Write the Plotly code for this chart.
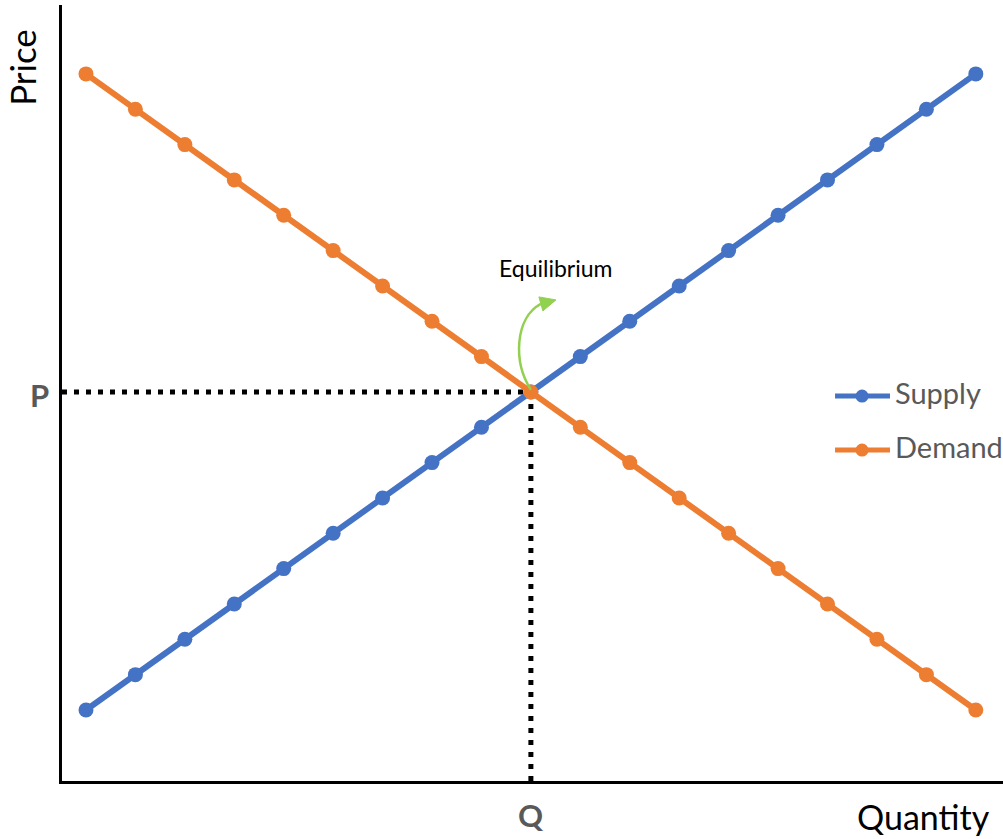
import plotly.graph_objects as go

# Supply and demand schedules over 19 quantity steps
quantity = list(range(1, 20))
supply = [1, 2, 3, 4, 5, 6, 7, 8, 9, 10, 11, 12, 13, 14, 15, 16, 17, 18, 19]
demand = [19, 18, 17, 16, 15, 14, 13, 12, 11, 10, 9, 8, 7, 6, 5, 4, 3, 2, 1]

# Equilibrium where the two schedules cross
eq_q = 10
eq_p = 10

series_names = ["Supply", "Demand"]

BLUE = "#4472C4"
ORANGE = "#ED7D31"
GREEN = "#92D050"
GREY = "#595959"
FONT = "Lato"

X_RANGE = [0.515, 19.55]
Y_RANGE = [-1.01, 20.95]

fig = go.Figure()

fig.add_trace(go.Scatter(
    x=quantity, y=supply, name=series_names[0], mode="lines+markers",
    line=dict(color=BLUE, width=6), marker=dict(color=BLUE, size=15),
))
fig.add_trace(go.Scatter(
    x=quantity, y=demand, name=series_names[1], mode="lines+markers",
    line=dict(color=ORANGE, width=6), marker=dict(color=ORANGE, size=15),
))

# Dotted guides from the equilibrium to both axes
guide = dict(color="black", width=5, dash="5px,7px")
fig.add_shape(type="line", x0=X_RANGE[0], x1=eq_q, y0=eq_p, y1=eq_p,
              line=guide, layer="below")
fig.add_shape(type="line", x0=eq_q, x1=eq_q, y0=Y_RANGE[0], y1=eq_p,
              line=guide, layer="below")

# Curved green pointer rising from the crossing point
fig.add_shape(type="path",
              path="M 10.0,10.06 C 9.636,10.85 9.676,12.09 10.2,12.49",
              line=dict(color=GREEN, width=2.5))
fig.add_shape(type="path",
              path="M 10.506,12.604 L 10.162,12.689 L 10.243,12.293 Z",
              line=dict(color=GREEN, width=1), fillcolor=GREEN)

fig.add_annotation(x=10.5, y=13.51, text="Equilibrium", showarrow=False,
                   font=dict(family=FONT, size=23, color="black"),
                   yanchor="middle")

# Axis letters for the equilibrium price and quantity
fig.add_annotation(x=-0.0234, xref="paper", y=eq_p - 0.08, text="<b>P</b>",
                   showarrow=False, xanchor="center", yanchor="middle",
                   font=dict(family=FONT, size=31, color=GREY))
fig.add_annotation(x=eq_q, y=-0.0438, yref="paper", text="<b>Q</b>",
                   showarrow=False, yanchor="middle",
                   font=dict(family=FONT, size=31, color=GREY))

# Axis titles
fig.add_annotation(x=-0.0425, xref="paper", y=0.919, yref="paper",
                   text="Price", showarrow=False, textangle=-90,
                   xanchor="center", yanchor="middle",
                   font=dict(family=FONT, size=35, color="black"))
fig.add_annotation(x=0.915, xref="paper", y=-0.0455, yref="paper",
                   text="Quantity", showarrow=False, xanchor="center",
                   yanchor="middle",
                   font=dict(family=FONT, size=34, color="black"))

# Legend entries: line swatch with a dot, followed by the series name
legend_rows = [(series_names[0], BLUE, 0.4961), (series_names[1], ORANGE, 0.4265)]
for label, color, ypos in legend_rows:
    fig.add_shape(type="line", xref="paper", yref="paper",
                  x0=0.8215, x1=0.8799, y0=ypos, y1=ypos,
                  line=dict(color=color, width=5))
    fig.add_shape(type="circle", xref="paper", yref="paper",
                  x0=0.8502 - 0.0069, x1=0.8502 + 0.0069,
                  y0=ypos - 0.0084, y1=ypos + 0.0084,
                  line=dict(color=color, width=0), fillcolor=color)
    fig.add_annotation(x=0.8831, xref="paper", y=ypos + 0.005, yref="paper",
                       text=label, showarrow=False, xanchor="left",
                       yanchor="middle",
                       font=dict(family=FONT, size=29, color=GREY))

fig.update_xaxes(range=X_RANGE, showgrid=False, zeroline=False,
                 showticklabels=False, ticks="", showline=True,
                 linecolor="black", linewidth=2.5, mirror=False)
fig.update_yaxes(range=Y_RANGE, showgrid=False, zeroline=False,
                 showticklabels=False, ticks="", showline=True,
                 linecolor="black", linewidth=2.5, mirror=False)

fig.update_layout(
    width=1003, height=839,
    margin=dict(l=62, r=0, t=5, b=58),
    plot_bgcolor="white", paper_bgcolor="white",
    showlegend=False,
)

fig.write_html("out.html")
